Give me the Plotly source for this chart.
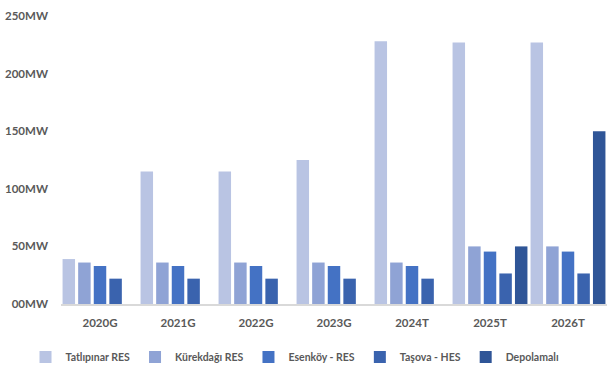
import plotly.graph_objects as go

categories = ["2020G", "2021G", "2022G", "2023G", "2024T", "2025T", "2026T"]
tatlipinar = [39, 115, 115, 125, 228, 227, 227]
kurekdagi = [36, 36, 36, 36, 36, 50, 50]
esenkoy = [33, 33, 33, 33, 33, 45.5, 45.5]
tasova = [22, 22, 22, 22, 22, 26.5, 26.5]
depolamali = [0, 0, 0, 0, 0, 50, 150]

series_names = ["Tatlıpınar RES", "Kürekdağı RES", "Esenköy - RES", "Taşova - HES", "Depolamalı"]
series_values = [tatlipinar, kurekdagi, esenkoy, tasova, depolamali]
colors = ["#B9C4E3", "#8FA3D5", "#4472C4", "#3A63AE", "#2F5597"]

tick_vals = [0, 50, 100, 150, 200, 250]
tick_text = ["00MW", "50MW", "100MW", "150MW", "200MW", "250MW"]

FONT = "Lato, sans-serif"
TXT = "#595959"

fig = go.Figure()
for name, vals, col in zip(series_names, series_values, colors):
    fig.add_trace(go.Bar(name=name, x=categories, y=vals, marker=dict(color=col, line=dict(width=0))))

fig.update_layout(
    width=607, height=368,
    margin=dict(l=61, r=0, t=16, b=64, autoexpand=False),
    barmode="group", bargap=0, bargroupgap=0.2,
    plot_bgcolor="white", paper_bgcolor="white",
    font=dict(family=FONT, size=12, color=TXT),
    legend=dict(orientation="h", x=-0.065, xanchor="left", y=-0.184, yanchor="middle",
                font=dict(family=FONT, size=10.5, color=TXT, weight="bold"),
                itemwidth=30, traceorder="normal"),
    xaxis=dict(range=[-0.5, 6.5], showgrid=False, showline=True, linecolor="#D9D9D9", linewidth=1.5,
               ticks="", tickfont=dict(family=FONT, size=11.5, color=TXT, weight="bold"),
               ticklabelstandoff=7),
    yaxis=dict(range=[0, 250], showgrid=False, zeroline=False, showline=False,
               tickvals=tick_vals, ticktext=tick_text, ticks="",
               tickfont=dict(family=FONT, size=11.5, color=TXT, weight="bold"),
               ticklabelstandoff=12),
)

fig.write_html("out.html")
